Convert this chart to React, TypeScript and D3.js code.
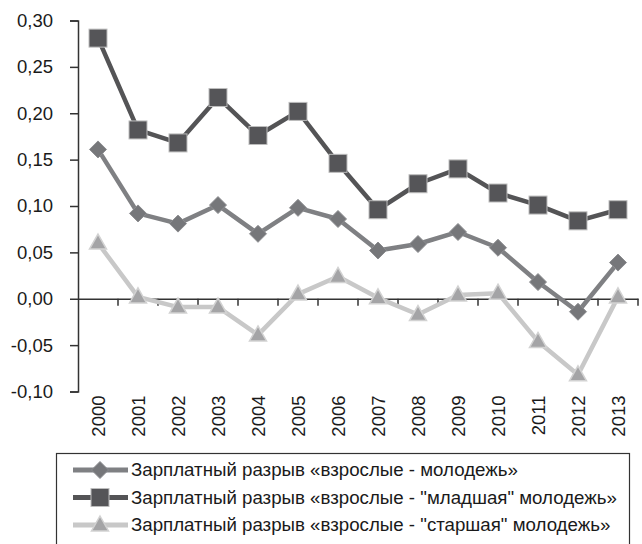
import { useRef, useEffect } from 'react';
import * as d3 from 'd3';

const YEARS = ['2000', '2001', '2002', '2003', '2004', '2005', '2006', '2007', '2008', '2009', '2010', '2011', '2012', '2013'];
const GAP_ALL = [0.161, 0.092, 0.081, 0.101, 0.070, 0.098, 0.086, 0.052, 0.059, 0.072, 0.055, 0.018, -0.014, 0.039];
const GAP_YOUNG = [0.281, 0.182, 0.168, 0.217, 0.176, 0.202, 0.146, 0.096, 0.124, 0.140, 0.114, 0.101, 0.084, 0.096];
const GAP_OLDER = [0.060, 0.002, -0.009, -0.009, -0.039, 0.005, 0.024, 0.001, -0.017, 0.004, 0.006, -0.046, -0.082, 0.002];
const Y_TICKS = [-0.1, -0.05, 0, 0.05, 0.1, 0.15, 0.2, 0.25, 0.3];
const LEGEND_LABELS = [
  'Зарплатный разрыв «взрослые  - молодежь»',
  'Зарплатный разрыв «взрослые - "младшая" молодежь»',
  'Зарплатный разрыв «взрослые - "старшая" молодежь»',
];

const WIDTH = 642;
const HEIGHT = 544;
const MARGIN = { top: 20.5, left: 78, right: 4, bottom: 152.5 };
const FONT = '"Liberation Sans", Arial, sans-serif';

type Marker = 'diamond' | 'square' | 'triangle';
const SERIES: { values: number[]; line: string; fill: string; edge: string; marker: Marker }[] = [
  { values: GAP_ALL, line: '#7f8083', fill: '#76777a', edge: '#8c8d90', marker: 'diamond' },
  { values: GAP_YOUNG, line: '#545456', fill: '#555558', edge: '#bdbdbd', marker: 'square' },
  { values: GAP_OLDER, line: '#c8c8c8', fill: '#a4a4a6', edge: '#d2d2d2', marker: 'triangle' },
];

function drawMarker(g: d3.Selection<SVGGElement, unknown, null, undefined>, kind: Marker, x: number, y: number, fill: string, edge: string) {
  if (kind === 'square') {
    g.append('rect').attr('x', x - 9).attr('y', y - 9).attr('width', 18).attr('height', 18)
      .attr('fill', fill).attr('stroke', edge).attr('stroke-width', 1);
  } else if (kind === 'diamond') {
    g.append('path').attr('d', `M${x},${y - 8.5}L${x + 8.5},${y}L${x},${y + 8.5}L${x - 8.5},${y}Z`)
      .attr('fill', fill).attr('stroke', edge).attr('stroke-width', 1);
  } else {
    g.append('path').attr('d', `M${x},${y - 9}L${x + 8.5},${y + 6}L${x - 8.5},${y + 6}Z`)
      .attr('fill', fill).attr('stroke', edge).attr('stroke-width', 1.5);
  }
}

// font size at which `text` is `target` px wide
function fitSize(svg: d3.Selection<SVGSVGElement, unknown, null, undefined>, text: string, target: number) {
  const t = svg.append('text').attr('font-family', FONT).attr('font-size', 20).text(text);
  const w = (t.node() as SVGTextElement).getComputedTextLength();
  t.remove();
  return w > 0 ? (20 * target) / w : 18;
}

export default function App() {
  const svgRef = useRef<SVGSVGElement>(null);

  useEffect(() => {
    if (!svgRef.current) return;
    const svg = d3.select(svgRef.current);
    svg.selectAll('*').remove();

    const x = d3.scaleBand<string>().domain(YEARS).range([MARGIN.left, WIDTH - MARGIN.right]).padding(0);
    const y = d3.scaleLinear().domain([-0.1, 0.3]).range([HEIGHT - MARGIN.bottom, MARGIN.top]);
    const fmt = (v: number) => d3.format('.2f')(v).replace('.', ',').replace('−', '-');

    const axisSize = fitSize(svg, '0,30', 36);
    const legendSize = fitSize(svg, LEGEND_LABELS[1], 486);

    // y axis
    const yAxis = svg.append('g').attr('transform', `translate(${MARGIN.left},0)`)
      .call(d3.axisLeft(y).tickValues(Y_TICKS).tickSize(8).tickPadding(17).tickFormat(d => fmt(d as number)));
    yAxis.selectAll('text').attr('font-family', FONT).attr('font-size', axisSize).attr('fill', '#1a1a1a');
    yAxis.selectAll('.domain, line').attr('stroke', '#333').attr('stroke-width', 1.5);

    // x axis at zero
    const xAxis = svg.append('g').attr('transform', `translate(0,${y(0)})`)
      .call(d3.axisBottom(x).tickSize(0).tickSizeOuter(0).tickFormat(() => ''));
    xAxis.selectAll('.domain').attr('stroke', '#333').attr('stroke-width', 1.5);
    xAxis.selectAll('.tick').remove();
    YEARS.forEach(yr => {
      const bx = x(yr)! + x.bandwidth();
      xAxis.append('line').attr('x1', bx).attr('x2', bx)
        .attr('y1', 0).attr('y2', 7).attr('stroke', '#333').attr('stroke-width', 1.5);
    });

    // year labels below plot
    const labels = svg.append('g');
    YEARS.forEach(yr => {
      const cx = x(yr)! + x.bandwidth() / 2;
      labels.append('text')
        .attr('transform', `translate(${cx + 6.5},${y(-0.1) + 4}) rotate(-90)`)
        .attr('text-anchor', 'end')
        .attr('font-family', FONT).attr('font-size', axisSize).attr('fill', '#1a1a1a')
        .text(yr);
    });

    const line = d3.line<number>()
      .x((_, i) => x(YEARS[i])! + x.bandwidth() / 2)
      .y(d => y(d));

    SERIES.forEach(s => {
      svg.append('path').datum(s.values).attr('d', line)
        .attr('fill', 'none').attr('stroke', s.line).attr('stroke-width', 4.5).attr('stroke-linejoin', 'round');
    });
    SERIES.forEach(s => {
      const g = svg.append('g');
      s.values.forEach((v, i) => drawMarker(g, s.marker, x(YEARS[i])! + x.bandwidth() / 2, y(v), s.fill, s.edge));
    });

    // legend
    const lg = svg.append('g');
    lg.append('rect').attr('x', 56.5).attr('y', 453.5).attr('width', 573).attr('height', 110)
      .attr('fill', 'white').attr('stroke', '#333').attr('stroke-width', 1.2);
    [0, 1, 2].forEach((si, k) => {
      const s = SERIES[si];
      const ly = 470 + k * 27.5;
      lg.append('line').attr('x1', 73).attr('x2', 128).attr('y1', ly).attr('y2', ly)
        .attr('stroke', s.line).attr('stroke-width', 5);
      drawMarker(lg, s.marker, 100, ly, s.fill, s.edge);
      lg.append('text').attr('x', 131).attr('y', ly + 6)
        .attr('font-family', FONT).attr('font-size', legendSize).attr('fill', '#1a1a1a')
        .text(LEGEND_LABELS[si]);
    });
  }, []);

  return (
    <div style={{ position: 'absolute', left: 0, top: 0, width: WIDTH, height: HEIGHT, background: 'white' }}>
      <svg ref={svgRef} width={WIDTH} height={HEIGHT} />
    </div>
  );
}
